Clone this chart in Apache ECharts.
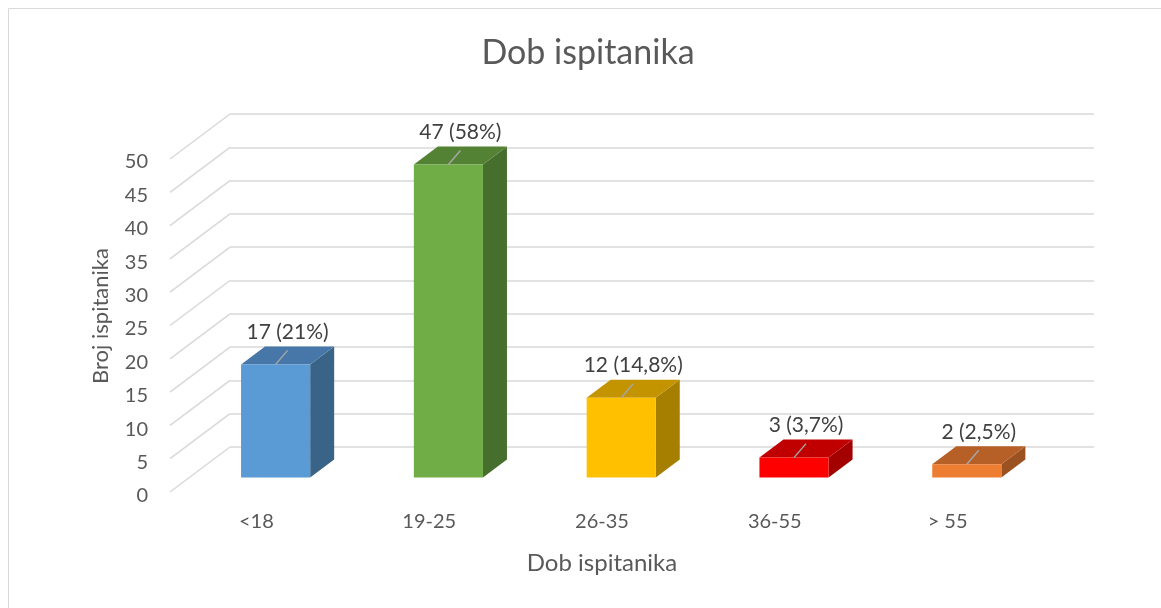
<!DOCTYPE html>
<html>
<head>
<meta charset="UTF-8">
<title>Dob ispitanika</title>
<script src="https://cdn.jsdelivr.net/npm/echarts@6/dist/echarts.min.js"></script>
<style>
  html, body { margin: 0; height: 100%; background: #fff; }
  #main { width: 1161px; height: 608px; }
</style>
</head>
<body>
<div id="main"></div>
<script>
// data
var categories = ["<18", "19-25", "26-35", "36-55", "> 55"];
var counts = [17, 47, 12, 3, 2];
var barLabels = ["17 (21%)", "47 (58%)", "12 (14,8%)", "3 (3,7%)", "2 (2,5%)"];
var yTicks = [0, 5, 10, 15, 20, 25, 30, 35, 40, 45, 50];

// colours per bar: front, top, side
var frontColors = ["#5b9bd5", "#70ad47", "#ffc000", "#ff0000", "#ed7d31"];
var topColors = ["#4677a8", "#548235", "#c49300", "#c00000", "#b65f26"];
var sideColors = ["#3a6388", "#466e2c", "#a67f00", "#a30000", "#9c5120"];

var FONT = "Lato, 'Open Sans', sans-serif";
var GRID_COLOR = "#d9d9d9";
var DEPTH = [-60, 45];      // back wall -> front edge
var FRONT = 0.68, BACK = 0.28; // bar faces, as a part of the depth

var chart = echarts.init(document.getElementById("main"));

function renderWall(params, api) {
  var v = api.value(1);
  var x = params.coordSys.x;
  var y = api.coord([0, v])[1];
  return {
    type: "line",
    shape: { x1: x, y1: y, x2: x + DEPTH[0], y2: y + DEPTH[1] },
    style: { stroke: GRID_COLOR, lineWidth: 1.5 }
  };
}

function renderBar(params, api) {
  var i = api.value(0), v = api.value(1);
  var base = api.coord([i, 0]), top = api.coord([i, v]);
  var w = api.size([1, 0])[0] * 0.4;
  var fx = DEPTH[0] * FRONT, fy = DEPTH[1] * FRONT;
  var dx = DEPTH[0] * (BACK - FRONT), dy = DEPTH[1] * (BACK - FRONT);
  var x0 = base[0] + fx - w / 2, x1 = x0 + w;
  var yb = base[1] + fy, yt = top[1] + fy;
  var cx = (x0 + x1) / 2;
  return {
    type: "group",
    children: [
      { type: "polygon", shape: { points: [[x1, yt], [x1 + dx, yt + dy], [x1 + dx, yb + dy], [x1, yb]] },
        style: { fill: sideColors[i] } },
      { type: "polygon", shape: { points: [[x0, yt], [x0 + dx, yt + dy], [x1 + dx, yt + dy], [x1, yt]] },
        style: { fill: topColors[i] } },
      { type: "rect", shape: { x: x0, y: yt, width: w, height: yb - yt },
        style: { fill: frontColors[i] } },
      { type: "line", shape: { x1: cx, y1: yt, x2: cx + 12, y2: yt - 14 },
        style: { stroke: "#a6a6a6", lineWidth: 1.5 } },
      { type: "text", x: cx + 12, y: yt - 32,
        style: { text: barLabels[i], align: "center", verticalAlign: "middle",
                 fill: "#404040", font: "21px " + FONT } }
    ]
  };
}

var option = {
  backgroundColor: "#fff",
  animation: false,
  graphic: [
    { type: "rect", shape: { x: 8.5, y: 8.5, width: 1200, height: 700 },
      style: { fill: "none", stroke: GRID_COLOR, lineWidth: 1 } },
    { type: "text", x: 588, y: 53,
      style: { text: "Dob ispitanika", align: "center", verticalAlign: "middle",
               fill: "#595959", font: "34px " + FONT } },
    { type: "text", x: 602, y: 563,
      style: { text: "Dob ispitanika", align: "center", verticalAlign: "middle",
               fill: "#595959", font: "24px " + FONT } },
    { type: "text", x: 101, y: 316, rotation: Math.PI / 2,
      style: { text: "Broj ispitanika", align: "center", verticalAlign: "middle",
               fill: "#595959", font: "22px " + FONT } }
  ],
  grid: [
    // back wall
    { left: 230, right: 67, top: 114, bottom: 161 },
    // front edge, carries the tick labels
    { left: 170, right: 127, top: 162, bottom: 112 }
  ],
  xAxis: [
    { gridIndex: 0, type: "category", data: categories, show: false },
    { gridIndex: 1, type: "category", data: categories,
      axisLine: { show: false }, axisTick: { show: false },
      axisLabel: { margin: 16, color: "#595959", fontSize: 20, fontFamily: FONT } }
  ],
  yAxis: [
    { gridIndex: 0, type: "value", min: 0, max: 50, interval: 5,
      axisLabel: { show: false }, axisLine: { show: false }, axisTick: { show: false },
      splitLine: { lineStyle: { color: GRID_COLOR, width: 1.5 } } },
    { gridIndex: 1, type: "value", min: 0, max: 50, interval: 5,
      axisLine: { show: false }, axisTick: { show: false }, splitLine: { show: false },
      axisLabel: { margin: 22, color: "#595959", fontSize: 20, fontFamily: FONT } }
  ],
  series: [
    {
      type: "custom", xAxisIndex: 0, yAxisIndex: 0, clip: false, silent: true,
      renderItem: renderWall,
      data: yTicks.map(function (t) { return [0, t]; })
    },
    {
      type: "custom", xAxisIndex: 0, yAxisIndex: 0, clip: false,
      renderItem: renderBar,
      data: counts.map(function (c, i) { return [i, c]; })
    }
  ]
};
chart.setOption(option);
</script>
</body>
</html>
